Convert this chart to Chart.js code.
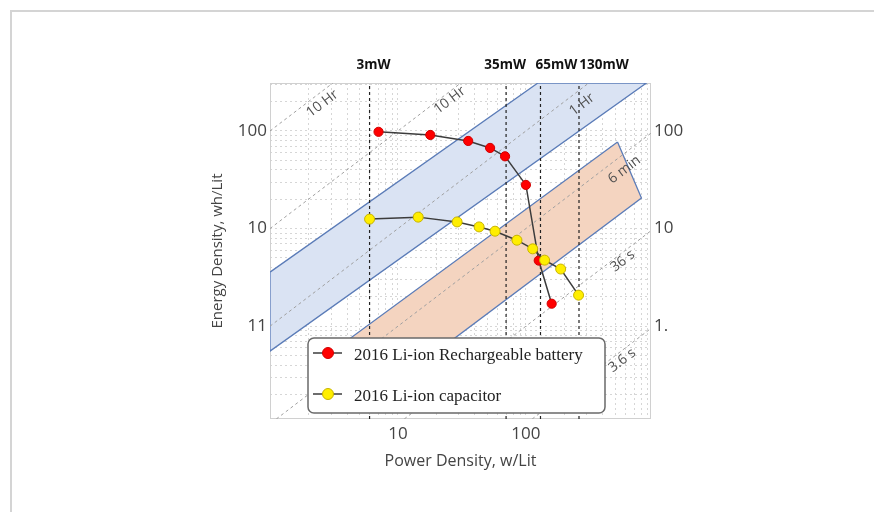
<!DOCTYPE html>
<html><head><meta charset="utf-8">
<script src="https://cdn.jsdelivr.net/npm/chart.js@4/dist/chart.umd.min.js"></script>
<style>
html,body{margin:0;padding:0;background:#fff;}
#wrap{position:relative;width:874px;height:512px;overflow:hidden;}
#frame{position:absolute;left:10px;top:10px;right:-5px;bottom:-5px;border-left:2px solid #d4d4d4;border-top:2px solid #d4d4d4;pointer-events:none;}
canvas{position:absolute;left:0;top:0;}
</style></head><body>
<div id="wrap"><div id="frame"></div><canvas id="c" width="874" height="512"></canvas></div>
<script>
// ---- data ----
const powerRange = [1, 950];        // w/Lit
const energyRange = [0.112, 310];   // wh/Lit

const seriesNames = ['2016 Li-ion Rechargeable battery', '2016 Li-ion capacitor'];
const batteryPower  = [7.05, 17.9, 35.4, 52.5, 68.7, 100, 126, 159];
const batteryEnergy = [98, 91, 79, 67, 55, 28, 4.7, 1.7];
const capacitorPower  = [6.0, 14.4, 29.0, 43.1, 57.4, 85.1, 113, 140, 187, 258];
const capacitorEnergy = [12.5, 13.1, 11.7, 10.4, 9.4, 7.6, 6.2, 4.75, 3.85, 2.08];

const loadLabels = ['3mW', '35mW', '65mW', '130mW'];
const loadPower = [6, 70, 130, 260];

const timeLabels = ['10 Hr', '10 Hr', '1 Hr', '6 min', '36 s', '3.6 s'];
const timeHours = [100, 10, 1, 0.1, 0.01, 0.001];

const blueBandPower  = [1, 124, 875, 1, 1];
const blueBandEnergy = [3.58, 310, 310, 0.555, 3.58];
const orangeBandPower  = [520, 800, 23.4, 3.57, 520];
const orangeBandEnergy = [77, 20.6, 0.638, 0.638, 77];

const xTickLabels = {'10': '10', '100': '100'};
const yLeftTickLabels = {'1': '11', '10': '10', '100': '100'};
const yRightTickLabels = {'1': '1.', '10': '10', '100': '100'};

// ---- helpers ----
const pts = (xs, ys) => xs.map((x, i) => ({x: x, y: ys[i]}));
function logTicks(min, max) {
  const out = [];
  for (let e = Math.floor(Math.log10(min)); e <= Math.ceil(Math.log10(max)); e++) {
    for (let s = 1; s < 10; s++) {
      const v = s * Math.pow(10, e);
      if (v >= min * 0.9999 && v <= max * 1.0001) out.push({value: v});
    }
  }
  return out;
}
function tickText(map, v) {
  const l = Math.log10(v), k = Math.round(l);
  if (Math.abs(l - k) > 1e-6) return '';
  const key = String(Math.pow(10, k));
  return map[key] !== undefined ? map[key] : '';
}
function timeLine(t) {
  const p0 = Math.max(powerRange[0], energyRange[0] / t);
  const p1 = Math.min(powerRange[1], energyRange[1] / t);
  return [{x: p0, y: p0 * t}, {x: p1, y: p1 * t}];
}

const datasets = [];
datasets.push({data: pts(blueBandPower, blueBandEnergy), showLine: true, fill: 'shape',
  backgroundColor: '#dae3f3', borderColor: '#5b7cb8', borderWidth: 1.3, pointRadius: 0, order: 10});
datasets.push({data: pts(orangeBandPower, orangeBandEnergy), showLine: true, fill: 'shape',
  backgroundColor: '#f4d4c0', borderColor: '#5b7cb8', borderWidth: 1.3, pointRadius: 0, order: 9});
timeHours.forEach(t => datasets.push({data: timeLine(t), showLine: true, fill: false,
  borderColor: '#a0a0a0', borderWidth: 1, borderDash: [3, 3], pointRadius: 0, order: 8}));
loadPower.forEach(p => datasets.push({data: [{x: p, y: energyRange[0]}, {x: p, y: energyRange[1]}],
  showLine: true, fill: false, borderColor: '#222', borderWidth: 1.2, borderDash: [3, 3], pointRadius: 0, order: 7}));
datasets.push({label: seriesNames[0], data: pts(batteryPower, batteryEnergy), showLine: true, fill: false,
  borderColor: '#3c3c3c', borderWidth: 1.5, pointRadius: 4.6, pointBackgroundColor: '#ff0000',
  pointBorderColor: '#d00000', pointBorderWidth: 1, order: 2});
datasets.push({label: seriesNames[1], data: pts(capacitorPower, capacitorEnergy), showLine: true, fill: false,
  borderColor: '#3c3c3c', borderWidth: 1.5, pointRadius: 5, pointBackgroundColor: '#ffee00',
  pointBorderColor: '#c8b400', pointBorderWidth: 1, order: 1});

const overlay = {
  id: 'overlay',
  beforeDatasetsDraw(chart) {
    const {ctx, chartArea: a} = chart;
    ctx.save();
    ctx.strokeStyle = '#d0d0d0'; ctx.lineWidth = 1;
    ctx.strokeRect(a.left + 0.5, a.top + 0.5, a.right - a.left - 1, a.bottom - a.top - 1);
    ctx.restore();
  },
  afterDatasetsDraw(chart) {
    const {ctx, chartArea: a, scales} = chart;
    const x = scales.x, y = scales.y;
    // time labels along diagonals
    const labelAt = [2.30, 23.5, 238, 511, 529, 518];
    const labelOff = [10, 7, 13, 13, 7, 8];
    ctx.save();
    ctx.font = '14px "Open Sans"';
    ctx.fillStyle = '#505050';
    ctx.textAlign = 'center'; ctx.textBaseline = 'middle';
    timeHours.forEach((t, i) => {
      const p = labelAt[i];
      const px = x.getPixelForValue(p), py = y.getPixelForValue(p * t);
      const qx = x.getPixelForValue(p * 2), qy = y.getPixelForValue(p * 2 * t);
      const ang = Math.atan2(qy - py, qx - px);
      ctx.save();
      ctx.translate(px, py); ctx.rotate(ang);
      ctx.fillText(timeLabels[i], 0, labelOff[i]);
      ctx.restore();
    });
    ctx.restore();
    // load labels above plot
    const loadDx = [4, -1, 16, 25];
    ctx.save();
    ctx.font = 'bold 13.5px "Open Sans"';
    ctx.fillStyle = '#111';
    ctx.textAlign = 'center'; ctx.textBaseline = 'middle';
    loadPower.forEach((p, i) => ctx.fillText(loadLabels[i], x.getPixelForValue(p) + loadDx[i], a.top - 18));
    ctx.restore();
    // legend
    const lx = a.left + 38, ly = a.top + 255, lw = 297, lh = 75;
    ctx.save();
    ctx.beginPath();
    ctx.roundRect(lx, ly, lw, lh, 6);
    ctx.fillStyle = '#fff'; ctx.fill();
    ctx.strokeStyle = '#6a6a6a'; ctx.lineWidth = 1.5; ctx.stroke();
    const entries = [
      {name: seriesNames[0], fill: '#ff0000', stroke: '#d00000', dy: 15},
      {name: seriesNames[1], fill: '#ffee00', stroke: '#c8b400', dy: 56}
    ];
    entries.forEach(e => {
      const cy = ly + e.dy;
      ctx.beginPath(); ctx.moveTo(lx + 5, cy); ctx.lineTo(lx + 34, cy);
      ctx.strokeStyle = '#3c3c3c'; ctx.lineWidth = 1.5; ctx.stroke();
      ctx.beginPath(); ctx.arc(lx + 20, cy, 5.5, 0, Math.PI * 2);
      ctx.fillStyle = e.fill; ctx.fill();
      ctx.strokeStyle = e.stroke; ctx.lineWidth = 1; ctx.stroke();
      ctx.font = '17px "Liberation Serif"';
      ctx.fillStyle = '#222'; ctx.textAlign = 'left'; ctx.textBaseline = 'middle';
      ctx.fillText(e.name, lx + 46, cy + 3);
    });
    ctx.restore();
  }
};

const gridOpts = {color: '#d6d6d6', lineWidth: 1, drawTicks: false};
new Chart(document.getElementById('c'), {
  type: 'scatter',
  data: {datasets: datasets},
  options: {
    responsive: false, animation: false,
    layout: {padding: {left: 205, right: 0, top: 83, bottom: 37}},
    plugins: {legend: {display: false}, tooltip: {enabled: false}},
    scales: {
      x: {type: 'logarithmic', position: 'bottom', min: powerRange[0], max: powerRange[1],
        afterBuildTicks: s => { s.ticks = logTicks(powerRange[0], powerRange[1]); },
        afterFit: s => { s.height = 56; },
        grid: gridOpts, border: {display: false, dash: [2, 3]},
        ticks: {autoSkip: false, maxRotation: 0, padding: 5, color: '#444', font: {family: 'Open Sans', size: 17},
          callback: v => tickText(xTickLabels, v)},
        title: {display: true, text: 'Power Density, w/Lit', color: '#444', font: {family: 'Open Sans', size: 16}}
      },
      y: {type: 'logarithmic', position: 'left', min: energyRange[0], max: energyRange[1],
        afterBuildTicks: s => { s.ticks = logTicks(energyRange[0], energyRange[1]); },
        afterFit: s => { s.width = 65; },
        grid: gridOpts, border: {display: false, dash: [2, 3]},
        ticks: {autoSkip: false, padding: 3, color: '#444', font: {family: 'Open Sans', size: 17},
          callback: v => tickText(yLeftTickLabels, v)},
        title: {display: true, text: 'Energy Density, wh/Lit', color: '#444', font: {family: 'Open Sans', size: 15}}
      },
      y2: {type: 'logarithmic', position: 'right', min: energyRange[0], max: energyRange[1],
        afterBuildTicks: s => { s.ticks = logTicks(energyRange[0], energyRange[1]); },
        afterFit: s => { s.width = 223; },
        grid: {display: false, drawTicks: false}, border: {display: false},
        ticks: {autoSkip: false, padding: 3, color: '#444', font: {family: 'Open Sans', size: 17},
          callback: v => tickText(yRightTickLabels, v)}
      }
    }
  },
  plugins: [overlay]
});
</script>
</body></html>
